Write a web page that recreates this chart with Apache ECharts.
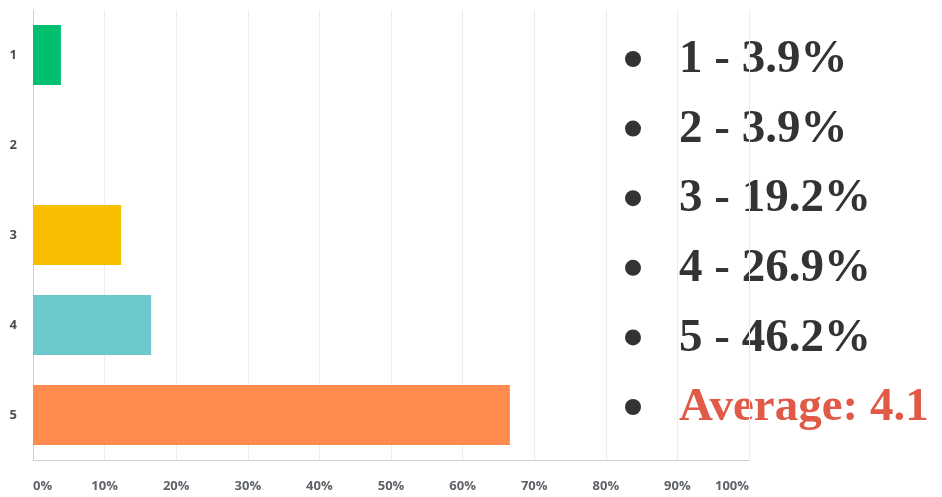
<!DOCTYPE html>
<html>
<head>
<meta charset="utf-8">
<script src="https://cdn.jsdelivr.net/npm/echarts@6/dist/echarts.min.js"></script>
<style>
html, body { margin: 0; padding: 0; background: #fff; }
#chart { width: 942px; height: 497px; }
</style>
</head>
<body>
<div id="chart"></div>
<script>
// data
var categories = ["1", "2", "3", "4", "5"];
var percents = [3.9, 0, 12.3, 16.5, 66.6];
var barColors = ["#00BF6F", "#507CB6", "#F9BE00", "#6BC8CD", "#FF8B4F"];
var xTicks = [0, 10, 20, 30, 40, 50, 60, 70, 80, 90, 100];

var listLabels = ["1 - 3.9%", "2 - 3.9%", "3 - 19.2%", "4 - 26.9%", "5 - 46.2%", "Average: 4.1"];
var listColors = ["#333333", "#333333", "#333333", "#333333", "#333333", "#E05A47"];

var myChart = echarts.init(document.getElementById("chart"));

// right hand list of results
var graphics = [];
for (var i = 0; i < listLabels.length; i++) {
	var y = 59 + i * 69.6;
	graphics.push({
		type: 'circle',
		shape: { cx: 633, cy: y, r: 8 },
		style: { fill: '#333333' }
	});
	graphics.push({
		type: 'text',
		x: 679,
		y: y + 1,
		style: {
			text: listLabels[i],
			fill: listColors[i],
			font: 'bold 47px "Liberation Serif", serif',
			verticalAlign: 'middle'
		}
	});
}

myChart.setOption({
	animation: false,
	grid: {
		left: 33,
		right: 193,
		top: 10,
		bottom: 37,
		containLabel: false
	},
	xAxis: {
		type: 'value',
		min: xTicks[0],
		max: xTicks[xTicks.length - 1],
		interval: 10,
		axisLabel: {
			formatter: '{value}%',
			color: '#5f6368',
			fontSize: 13,
			fontWeight: 'bold',
			fontFamily: '"Open Sans", sans-serif',
			margin: 20,
			alignMinLabel: 'left',
			alignMaxLabel: 'right'
		},
		axisTick: { show: false },
		axisLine: {
			show: true,
			lineStyle: { color: '#cfcfcf', width: 1 }
		},
		splitLine: {
			show: true,
			lineStyle: { color: '#ececec', width: 1 }
		}
	},
	yAxis: {
		type: 'category',
		inverse: true,
		data: categories,
		axisTick: { show: false },
		axisLine: {
			show: true,
			lineStyle: { color: '#cfcfcf', width: 1 }
		},
		axisLabel: {
			color: '#4a4f55',
			fontSize: 13,
			fontWeight: 'bold',
			fontFamily: '"Open Sans", sans-serif',
			margin: 16
		}
	},
	series: [
		{
			type: 'bar',
			barWidth: 60,
			data: percents.map(function(v, idx) {
				return { value: v, itemStyle: { color: barColors[idx] } };
			})
		}
	],
	graphic: graphics
});
</script>
</body>
</html>
